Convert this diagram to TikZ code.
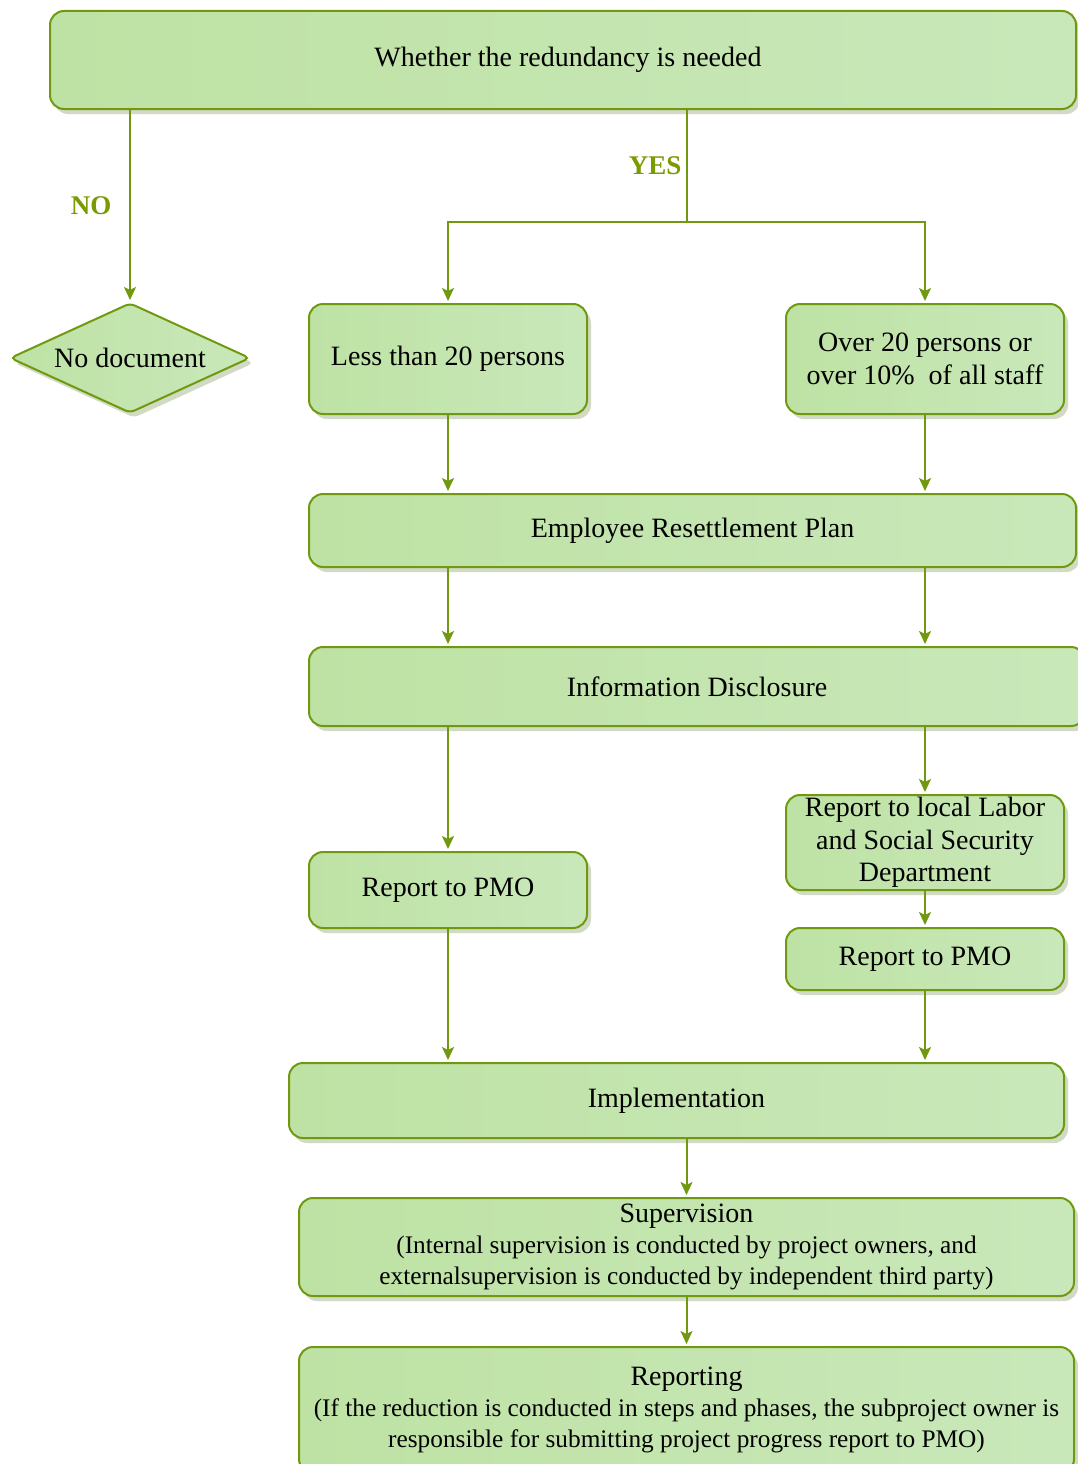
\documentclass[tikz,border=0pt]{standalone}
\usepackage{fontspec}
\setmainfont{Liberation Serif}
\usetikzlibrary{shapes.geometric,arrows.meta,shadows}
\definecolor{edge}{RGB}{112,153,16}
\definecolor{lab}{RGB}{122,154,1}
\definecolor{fillA}{RGB}{190,226,164}
\definecolor{fillB}{RGB}{201,232,186}
\definecolor{shad}{RGB}{205,214,190}
\tikzset{
  box/.style={draw=edge, line width=2pt, rounded corners=14pt,
    left color=fillA, right color=fillB, align=center, inner sep=2pt,
    font=\fontsize{28}{32.5}\selectfont,
    drop shadow={shadow xshift=4pt, shadow yshift=-5pt, fill=shad, opacity=0.9}},
  smallbox/.style={box, font=\fontsize{25.3}{31}\selectfont},
  dia/.style={draw=edge, line width=2pt, diamond, aspect=2.18, inner sep=0pt,
    rounded corners=5pt, left color=fillA, right color=fillB,
    font=\fontsize{28}{32}\selectfont,
    drop shadow={shadow xshift=4pt, shadow yshift=-5pt, fill=shad, opacity=0.9}},
  conn/.style={draw=edge, line width=2pt},
  arr/.style={conn, -{Stealth[length=13pt, width=12pt, inset=3pt]}, shorten >=2pt},
  yn/.style={text=lab, font=\fontsize{27}{32}\selectfont\bfseries}
}
\newcommand{\bigline}[1]{{\fontsize{28}{31}\selectfont #1}}
\begin{document}
\begin{tikzpicture}[x=1pt,y=-1pt]
\useasboundingbox (0,0) rectangle (1077,1464);
\fill[white] (0,0) rectangle (1077,1464);

\node[box, minimum width=1026pt, minimum height=98pt] (top) at (563,60) {\hspace*{10pt}Whether the redundancy is needed};
\node[dia, minimum width=240pt, minimum height=110pt] (nd) at (130,358) {No document};
\node[box, minimum width=278pt, minimum height=110pt] (less) at (448,359) {Less than 20 persons};
\node[box, minimum width=278pt, minimum height=110pt] (over) at (925,359) {Over 20 persons or\\over 10\%~ of all staff};
\node[box, minimum width=767pt, minimum height=73pt] (erp) at (692.5,530.5) {Employee Resettlement Plan};
\node[box, minimum width=776pt, minimum height=79pt] (info) at (697,686.5) {Information Disclosure};
\node[box, minimum width=278pt, minimum height=76pt] (pmoA) at (448,890) {Report to PMO};
\node[box, minimum width=278pt, minimum height=95pt] (labor) at (925,842.5) {Report to local Labor\\and Social Security\\Department};
\node[box, minimum width=278pt, minimum height=62pt] (pmoB) at (925,959) {Report to PMO};
\node[box, minimum width=775pt, minimum height=75pt] (impl) at (676.5,1100.5) {Implementation};
\node[smallbox, minimum width=775pt, minimum height=98pt] (sup) at (686.5,1247) {\bigline{Supervision}\\(Internal supervision is conducted by project owners, and\\externalsupervision is conducted by independent third party)};
\node[smallbox, minimum width=775pt, minimum height=126pt] (rep) at (686.5,1410) {\bigline{Reporting}\\(If the reduction is conducted in steps and phases, the subproject owner is\\responsible for submitting project progress report to PMO)};

\coordinate (split) at (687,222);

\draw[arr] (top.south -| nd.north) -- (nd.north);
\draw[conn] (top.south -| split) -- (split);
\draw[arr] (split) -| (less.north);
\draw[arr] (split) -| (over.north);
\draw[arr] (less.south) -- (less.south |- erp.north);
\draw[arr] (over.south) -- (over.south |- erp.north);
\draw[arr] (erp.south -| less) -- (info.north -| less);
\draw[arr] (erp.south -| over) -- (info.north -| over);
\draw[arr] (info.south -| pmoA) -- (pmoA.north);
\draw[arr] (info.south -| labor) -- (labor.north);
\draw[arr] (labor.south) -- (pmoB.north);
\draw[arr] (pmoA.south) -- (pmoA.south |- impl.north);
\draw[arr] (pmoB.south) -- (pmoB.south |- impl.north);
\draw[arr] (impl.south -| sup) -- (sup.north);
\draw[arr] (sup.south) -- (rep.north);

\node[yn, anchor=east] (no) at (115,206) {NO};
\node[yn, anchor=east] (yes) at (685,166) {YES};
\end{tikzpicture}
\end{document}
